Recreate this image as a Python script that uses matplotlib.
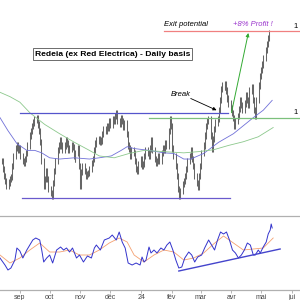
import numpy as np
import pandas as pd
import matplotlib
matplotlib.use('Agg')
import matplotlib.pyplot as plt

plt.rcParams['font.family'] = ['Liberation Sans', 'DejaVu Sans']

# daily closes, Redeia, from 2023-08-14 (business days)
close = [14.90, 14.77, 14.66, 14.58, 14.50, 14.55, 14.61, 14.64, 14.82, 14.98,
         15.11, 15.15, 15.07, 15.10, 14.98, 14.90, 14.87, 14.93, 15.03, 15.15,
         15.31, 15.39, 15.46, 15.52, 15.57, 15.60, 15.49, 15.39, 15.20, 14.90,
         14.50, 14.61, 14.74, 14.61, 14.45, 14.38, 14.33, 14.54, 14.74, 14.90,
         15.07, 15.15, 15.23, 15.15, 15.07, 15.15, 15.23, 15.18, 15.07, 15.10,
         15.15, 15.12, 14.98, 14.93, 15.03, 15.10, 14.82, 14.50, 14.72, 14.82,
         14.74, 14.66, 14.69, 14.71, 14.77, 14.87, 14.93, 15.07, 15.18, 15.23,
         15.26, 15.21, 15.23, 15.34, 15.42, 15.39, 15.47, 15.44, 15.54, 15.49,
         15.58, 15.54, 15.63, 15.67, 15.54, 15.50, 15.60, 15.54, 15.45, 15.51,
         15.34, 15.15, 15.10, 14.98, 15.07, 15.03, 14.90, 14.77, 14.74, 14.85,
         14.93, 14.82, 14.85, 14.98, 15.07, 15.03, 14.98, 15.10, 15.23, 15.07,
         14.93, 14.87, 14.90, 14.98, 14.90, 15.03, 15.10, 15.07, 15.18, 15.15,
         15.39, 15.58, 15.47, 15.10, 14.98, 14.82, 14.66, 14.45, 14.33, 14.41,
         14.53, 14.58, 14.66, 14.77, 14.90, 14.98, 15.07, 14.93, 14.82, 14.66,
         14.54, 14.48, 14.66, 14.82, 15.03, 15.15, 15.31, 15.47, 15.54, 15.58,
         15.31, 15.10, 15.26, 15.42, 15.52, 15.58, 15.72, 15.88, 16.07, 16.12,
         16.09, 16.14, 16.04, 15.91, 15.83, 15.75, 15.68, 15.59, 15.47, 15.54,
         15.63, 15.74, 15.88, 15.80, 15.72, 15.83, 15.96, 15.88, 15.80, 16.04,
         16.10, 15.88, 15.72, 15.62, 15.88, 16.12, 16.28, 16.37, 16.46, 16.56,
         16.69, 16.79, 16.89, 16.97]

# moving averages (day offset from 2023-08-12, price)
ma_short_day = [0, 8, 17, 27, 35, 42, 50, 60, 75, 90, 100, 112, 122, 128, 135,
                150, 165, 175, 185, 192, 205, 220, 235, 245, 255, 265, 274]
ma_short = [15.60, 15.39, 15.18, 15.07, 15.07, 15.03, 14.95, 14.93, 14.95, 14.93,
            14.95, 14.98, 15.07, 15.13, 15.10, 15.07, 15.03, 15.02, 14.93, 14.93,
            15.02, 15.20, 15.34, 15.47, 15.60, 15.72, 15.88]
ma_long_day = [0, 10, 20, 30, 45, 60, 75, 90, 100, 115, 130, 145, 165, 185, 200,
               215, 230, 245, 260, 275]
ma_long = [16.01, 15.94, 15.85, 15.68, 15.49, 15.34, 15.20, 15.07, 14.98, 14.95,
           15.02, 15.07, 15.05, 15.03, 15.05, 15.08, 15.15, 15.21, 15.29, 15.44]

# RSI and its signal line
rsi_day = [0, 5, 8, 11, 15, 17, 20, 23, 27, 30, 33, 36, 40, 42, 44, 47, 50, 53,
           57, 61, 64, 67, 70, 73, 77, 80, 84, 88, 92, 95, 97, 101, 105, 110, 113,
           117, 120, 123, 126, 129, 133, 137, 141, 143, 145, 147, 150, 152, 155,
           158, 162, 165, 168, 171, 174, 177, 180, 183, 186, 190, 193, 196, 199,
           203, 206, 210, 213, 216, 219, 222, 225, 228, 231, 234, 237, 240, 243,
           246, 249, 252, 255, 257, 260, 262, 265, 268, 270, 272, 273, 274]
rsi = [42, 35, 30, 32, 40, 52, 49, 42, 50, 55, 60, 62, 60, 50, 38, 42, 45, 37,
       50, 53, 50, 52, 48, 52, 42, 45, 38, 44, 42, 52, 55, 50, 60, 62, 65,
       60, 68, 58, 52, 37, 35, 37, 35, 43, 38, 40, 53, 47, 50,
       47, 52, 50, 55, 58, 50, 40, 32, 33, 42, 48, 45, 38, 43,
       45, 52, 60, 55, 50, 60, 68, 66, 68, 60, 50, 47, 42, 45,
       50, 57, 55, 45, 45, 50, 47, 53, 58, 66, 70, 76, 72]
sig_day = [0, 10, 20, 30, 40, 50, 60, 70, 80, 90, 100, 110, 120, 128, 135, 145,
           155, 165, 175, 185, 195, 205, 215, 225, 235, 245, 255, 265, 275]
sig = [45, 37, 42, 50, 57, 48, 48, 50, 45, 45, 50, 57, 62, 58, 45, 38,
       45, 50, 48, 40, 42, 47, 56, 64, 57, 50, 51, 52, 62]

month_dates = ['2023-09-01', '2023-10-01', '2023-11-01', '2023-12-01', '2024-01-01',
               '2024-02-01', '2024-03-01', '2024-04-01', '2024-05-01', '2024-06-01']
month_labels = ['sep', 'oct', 'nov', 'déc', '24', 'fév', 'mar', 'avr', 'mai', 'jui']

resist = 15.67
support = 14.30
breakout = 15.60
target = 17.00

t0 = pd.Timestamp('2023-08-12')
def day(n):
    return t0 + pd.Timedelta(days=n)

dates = pd.bdate_range('2023-08-14', periods=len(close))
c = np.array(close)
o = np.r_[c[0], c[:-1]]

fig = plt.figure(figsize=(3, 3), dpi=100)
ax = fig.add_axes([0, 0.28, 1, 0.72])
ax2 = fig.add_axes([0, 0.0333, 1, 0.2467])
xmin, xmax = day(0), day(302)

# price bars
ax.vlines(dates, np.minimum(o, c) - 0.05, np.maximum(o, c) + 0.05, color='#666666', lw=0.75)
ax.plot([day(d) for d in ma_short_day], ma_short, color='#7070d8', lw=0.6)
ax.plot([day(d) for d in ma_long_day], ma_long, color='#8cc88c', lw=0.6)

ax.plot([day(20), day(230)], [resist, resist], color='#5555cc', lw=0.9)
ax.plot([day(22), day(232)], [support, support], color='#6a5acd', lw=0.9)
ax.plot([day(150), day(302)], [breakout, breakout], color='#7cc07c', lw=0.9)
ax.plot([day(165), day(302)], [target, target], color='#f08080', lw=0.9)

ax.annotate('', xy=(day(250), 16.97), xytext=(day(233), 15.68),
            arrowprops=dict(arrowstyle='-|>', color='#33aa33', lw=0.7,
                            mutation_scale=5, shrinkA=0, shrinkB=0))
ax.annotate('', xy=(day(218), 15.72), xytext=(day(192), 15.91),
            arrowprops=dict(arrowstyle='-|>', color='black', lw=0.6,
                            mutation_scale=5, shrinkA=0, shrinkB=0))
ax.text(day(172), 15.98, 'Break', fontsize=5.5, style='italic', va='center')
ax.text(day(165), 17.10, 'Exit potential', fontsize=5.5, style='italic', va='center')
ax.text(day(235), 17.11, '+8% Profit !', fontsize=5.5, style='italic',
        color='#9933cc', va='center')
ax.text(day(295), 17.08, '1', fontsize=5.5, va='center')
ax.text(day(295), 15.68, '1', fontsize=5.5, va='center')
ax.text(day(35), 16.63, 'Redeia (ex Red Electrica) - Daily basis', fontsize=6.1,
        fontweight='bold', va='center',
        bbox=dict(boxstyle='square,pad=0.25', fc='white', ec='#555555', lw=0.6))

ax.set_xlim(xmin, xmax)
ax.set_ylim(14.008, 17.504)
ax.axis('off')

# RSI panel
ax2.plot([day(d) for d in sig_day], sig, color='#f4a070', lw=0.6)
ax2.plot([day(d) for d in rsi_day], rsi, color='#3333cc', lw=0.7)
ax2.plot([day(180), day(282)], [29, 51], color='#4444cc', lw=1.0)
ax2.set_xlim(xmin, xmax)
ax2.set_ylim(10, 84)
ax2.set_yticks([])
ax2.set_xticks(pd.to_datetime(month_dates))
ax2.set_xticklabels(month_labels)
ax2.tick_params(axis='x', length=2, width=0.5, color='#999999', labelsize=5,
                labelcolor='#444444', pad=1)
for s in ['left', 'right']:
    ax2.spines[s].set_visible(False)
for s in ['top', 'bottom']:
    ax2.spines[s].set_color('#b0b0b0')
    ax2.spines[s].set_linewidth(0.9)
ax2.patch.set_alpha(0)

fig.savefig('out.png', dpi=100)
